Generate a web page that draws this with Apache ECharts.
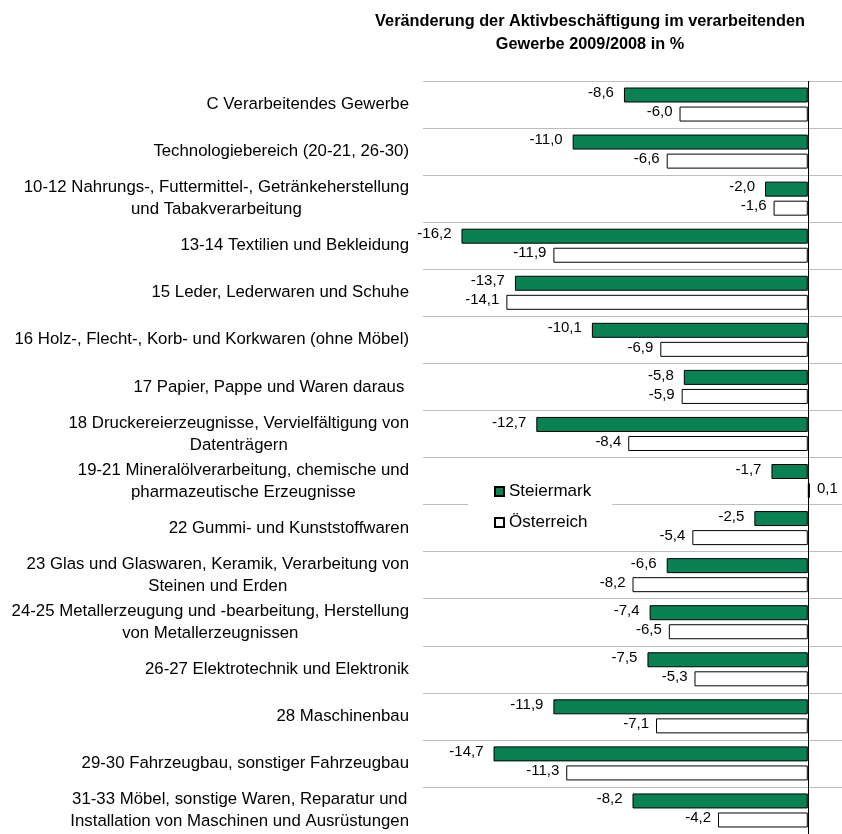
<!DOCTYPE html>
<html>
<head>
<meta charset="utf-8">
<script src="https://cdn.jsdelivr.net/npm/echarts@6/dist/echarts.min.js"></script>
<style>
  html, body { margin: 0; padding: 0; background: #fff; }
  #chart { width: 842px; height: 834px; }
</style>
</head>
<body>
<div id="chart"></div>
<script>
  // Kategorien (Branchen)
  const categories = [
    "C Verarbeitendes Gewerbe",
    "Technologiebereich (20-21, 26-30)",
    "10-12 Nahrungs-, Futtermittel-, Getränkeherstellung\nund Tabakverarbeitung",
    "13-14 Textilien und Bekleidung",
    "15 Leder, Lederwaren und Schuhe",
    "16 Holz-, Flecht-, Korb- und Korkwaren (ohne Möbel)",
    "17 Papier, Pappe und Waren daraus ",
    "18 Druckereierzeugnisse, Vervielfältigung von\nDatenträgern",
    "19-21 Mineralölverarbeitung, chemische und\npharmazeutische Erzeugnisse",
    "22 Gummi- und Kunststoffwaren",
    "23 Glas und Glaswaren, Keramik, Verarbeitung von\nSteinen und Erden",
    "24-25 Metallerzeugung und -bearbeitung, Herstellung\nvon Metallerzeugnissen",
    "26-27 Elektrotechnik und Elektronik",
    "28 Maschinenbau",
    "29-30 Fahrzeugbau, sonstiger Fahrzeugbau",
    "31-33 Möbel, sonstige Waren, Reparatur und\nInstallation von Maschinen und Ausrüstungen"
  ];
  const steiermark = [-8.6, -11.0, -2.0, -16.2, -13.7, -10.1, -5.8, -12.7, -1.7, -2.5, -6.6, -7.4, -7.5, -11.9, -14.7, -8.2];
  const oesterreich = [-6.0, -6.6, -1.6, -11.9, -14.1, -6.9, -5.9, -8.4, 0.1, -5.4, -8.2, -6.5, -5.3, -7.1, -11.3, -4.2];

  const font = '"Liberation Sans", Arial, sans-serif';
  const fmt = v => v.toFixed(1).replace('.', ',');

  // Werte links bzw. rechts vom Balken beschriften
  function labelData(values, dy) {
    return values.map(v => ({
      value: v,
      label: { position: v < 0 ? 'left' : 'right', offset: [0, dy] }
    }));
  }

  const chart = echarts.init(document.getElementById('chart'));
  chart.setOption({
    animation: false,
    backgroundColor: '#fff',
    textStyle: { fontFamily: font },
    title: {
      text: 'Veränderung der Aktivbeschäftigung im verarbeitenden\nGewerbe 2009/2008 in %',
      left: 585,
      top: 5,
      textAlign: 'center',
      textStyle: { fontSize: 16.3, fontWeight: 'bold', color: '#000', lineHeight: 23, fontFamily: font }
    },
    legend: {
      orient: 'vertical',
      left: 468,
      top: 471,
      padding: [12, 21, 12, 26],
      backgroundColor: '#fff',
      itemWidth: 9,
      itemHeight: 9,
      itemGap: 14,
      icon: 'rect',
      textStyle: { fontSize: 17, color: '#000', fontFamily: font },
      data: ['Steiermark', 'Österreich']
    },
    grid: { left: 423, right: 0, top: 81, height: 757, containLabel: false },
    xAxis: {
      type: 'value',
      min: -18,
      max: 1.6,
      axisLine: { show: false },
      axisTick: { show: false },
      axisLabel: { show: false },
      splitLine: { show: false }
    },
    yAxis: {
      type: 'category',
      inverse: true,
      data: categories,
      axisLine: { show: false, onZero: false },
      axisTick: { show: false },
      splitLine: { show: true, lineStyle: { color: '#bdbdbd', width: 1 } },
      axisLabel: {
        margin: 14,
        fontSize: 16.8,
        color: '#000',
        formatter: v => v.split('\n').map(l => '{c|' + l + '}').join('\n'),
        rich: { c: { align: 'center', fontSize: 16.8, lineHeight: 22, color: '#000', fontFamily: font } }
      }
    },
    series: [
      {
        name: 'Steiermark',
        type: 'bar',
        barWidth: 15,
        barGap: '27%',
        data: labelData(steiermark, -2),
        itemStyle: { color: '#0a8152', borderColor: '#000', borderWidth: 1 },
        label: { show: true, distance: 10, fontSize: 15, color: '#000', formatter: p => fmt(p.value) },
        markLine: {
          silent: true,
          symbol: 'none',
          label: { show: false },
          lineStyle: { color: '#000', width: 1, type: 'solid' },
          data: [{ xAxis: 0 }]
        }
      },
      {
        name: 'Österreich',
        type: 'bar',
        barWidth: 15,
        data: labelData(oesterreich, -2),
        itemStyle: { color: '#fff', borderColor: '#000', borderWidth: 1 },
        label: { show: true, distance: 7, fontSize: 15, color: '#000', formatter: p => fmt(p.value) }
      }
    ]
  });
</script>
</body>
</html>
